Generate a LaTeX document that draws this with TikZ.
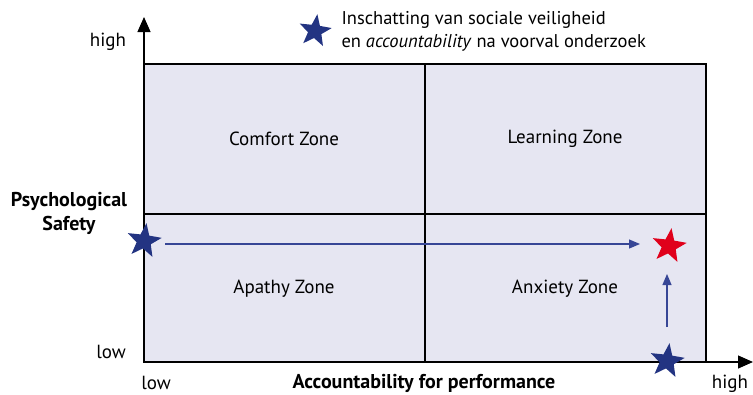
\documentclass[tikz,border=0pt]{standalone}
\usepackage{fontspec}
\setmainfont{PT Sans}
\usetikzlibrary{shapes.geometric,arrows.meta}
\definecolor{zonefill}{RGB}{230,230,242}
\definecolor{starblue}{RGB}{35,52,130}
\definecolor{starred}{RGB}{224,0,27}
\definecolor{arrblue}{RGB}{55,70,150}
\tikzset{
  zone/.style={draw=black, line width=1.2pt, fill=zonefill},
  zlabel/.style={font=\fontsize{19}{22}\selectfont},
  alabel/.style={font=\fontsize{19}{22}\selectfont},
  blabel/.style={font=\fontsize{20}{24}\selectfont\bfseries, align=center},
  starnode/.style={star, star points=5, star point ratio=2.4, minimum size=36pt, inner sep=0pt, rotate=-8},
  bluestar/.style={starnode, fill=starblue},
  redstar/.style={starnode, fill=starred},
  axis/.style={line width=1.2pt, -{Triangle[length=15pt,width=13pt]}},
  move/.style={draw=arrblue, line width=1.2pt, -{Triangle[length=11pt,width=9pt]}}
}
\begin{document}
\begin{tikzpicture}[x=1pt,y=-1pt]
\useasboundingbox (0,0) rectangle (753,394);
% zones
\draw[zone] (144,64) rectangle (706,362);
\draw[line width=1.2pt] (425,64) -- (425,362);
\draw[line width=1.2pt] (144,214) -- (706,214);
% axes
\coordinate (o) at (144,362);
\coordinate (ytip) at (144,17);
\coordinate (xtip) at (753,362);
\draw[axis] (o) -- (ytip);
\draw[axis] (o) -- (xtip);
% zone labels
\node[zlabel] (cz) at (284,139) {Comfort Zone};
\node[zlabel] (lz) at (565,139) {Learning Zone};
\node[zlabel] (apz) at (284,289) {Apathy Zone};
\node[zlabel] (anz) at (565,289) {Anxiety Zone};
% axis labels
\node[alabel] (yhigh) at (108,42) {high};
\node[alabel] (ylow) at (111,352) {low};
\node[alabel] (xlow) at (156,383) {low};
\node[alabel] (xhigh) at (730,384) {high};
\node[blabel] (xlab) at (424,383) {Accountability for performance};
\node[blabel] (ylab) at (69,213) {Psychological\\Safety};
% legend
\node[bluestar, minimum size=34pt] (ls) at (315,31) {};
\node[anchor=west, align=left, font=\fontsize{18.5}{23}\selectfont] (lt) at (338,31) {Inschatting van sociale veiligheid\\en \textit{accountability} na voorval onderzoek};
% stars
\node[bluestar] (bs1) at (144,241) {};
\node[redstar] (rs) at (669,246) {};
\node[bluestar] (bs2) at (667,361) {};
\coordinate (a0) at ([yshift=-3pt]bs1.center);
\draw[move, shorten <=21pt, shorten >=29pt] (a0) -- (a0 -| rs.center);
\draw[move, shorten <=34pt, shorten >=28pt] (bs2.center) -- (bs2.center |- rs.center);
\end{tikzpicture}
\end{document}
